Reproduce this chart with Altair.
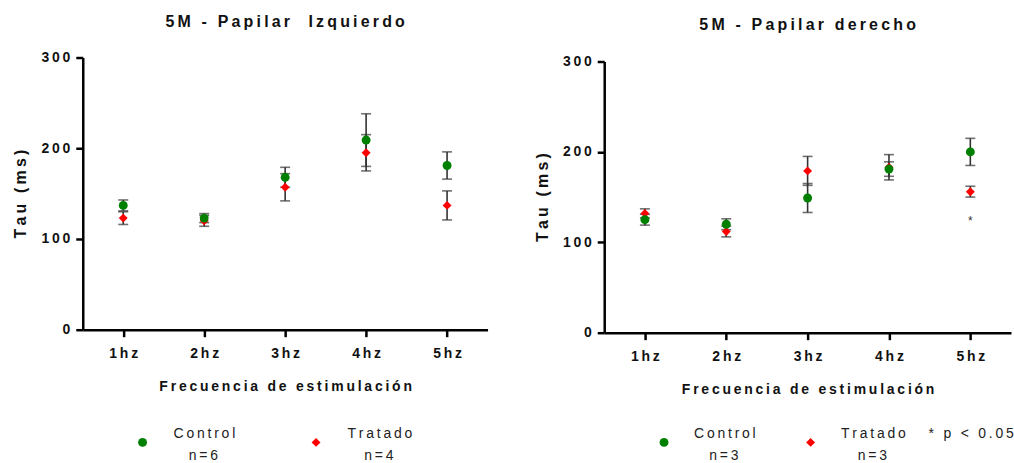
import altair as alt
import pandas as pd

# Estimulation frequencies (x categories) and the two groups
freqs = ["1hz", "2hz", "3hz", "4hz", "5hz"]
groups = ["Control", "Tratado"]
group_colors = ["#008000", "#ff0000"]
group_shapes = ["circle", "diamond"]
group_sizes = [80, 80]

# Papilar izquierdo: mean Tau (ms) and error
izq_control = [137, 123, 168, 209, 181]
izq_control_err = [6, 5, 11, 29, 15]
izq_tratado = [123, 120, 157, 195, 137]
izq_tratado_err = [7, 6, 15, 20, 16]
izq_n = [6, 4]

# Papilar derecho: mean Tau (ms) and error
der_control = [125, 120, 149, 181, 200]
der_control_err = [6, 6, 16, 8, 15]
der_tratado = [132, 112, 179, 183, 156]
der_tratado_err = [5, 6, 16, 14, 6]
der_n = [3, 3]

# significance marker: frequency and height of the asterisk
der_sig_freq = ["5hz"]
der_sig_pos = [127]

FONT = "Liberation Sans"
THIN = "\u2009"
SPACED_EXPR = "join(split(datum.label, ''), '\u2009')"


def sp(s):
    """Letter-spaced text, as in the original figure style."""
    return THIN.join(s)


def make_frame(ctrl, ctrl_err, trat, trat_err):
    rows = []
    # Tratado first so the Control circles sit on top
    for g, means, errs in (("Tratado", trat, trat_err), ("Control", ctrl, ctrl_err)):
        for f, m, e in zip(freqs, means, errs):
            rows.append({"freq": f, "group": g, "mean": m, "lo": m - e, "hi": m + e})
    return pd.DataFrame(rows)


def panel(df, title, n, height, yrange, sig_freq, sig_pos, legend_x, note=None, title_dy=0):
    x = alt.X(
        "freq:N",
        scale=alt.Scale(type="point", domain=freqs, padding=0.5),
        axis=alt.Axis(title=sp("Frecuencia de estimulación"), labelAngle=0,
                      labelExpr=SPACED_EXPR),
    )
    yscale = alt.Scale(domain=[0, 300], range=yrange) if yrange else alt.Scale(domain=[0, 300])

    def yenc(field):
        return alt.Y(f"{field}:Q", scale=yscale,
                     axis=alt.Axis(values=[0, 100, 200, 300], title=sp("Tau (ms)"),
                                   labelExpr=SPACED_EXPR))

    base = alt.Chart(df).encode(x=x)
    bars = base.mark_rule(color="#333333", strokeWidth=1.6).encode(y=yenc("lo"), y2="hi:Q")
    cap_lo = base.mark_tick(orient="horizontal", size=10, thickness=1.6,
                            color="#333333").encode(y=yenc("lo"))
    cap_hi = base.mark_tick(orient="horizontal", size=10, thickness=1.6,
                            color="#333333").encode(y=yenc("hi"))
    pts = base.mark_point(filled=True, opacity=1).encode(
        y=yenc("mean"),
        color=alt.Color("group:N", scale=alt.Scale(domain=groups, range=group_colors), legend=None),
        shape=alt.Shape("group:N", scale=alt.Scale(domain=groups, range=group_shapes), legend=None),
        size=alt.Size("group:N", scale=alt.Scale(domain=groups, range=group_sizes), legend=None),
    )
    layers = [bars, cap_lo, cap_hi, pts]

    if sig_freq:
        sig = pd.DataFrame({"freq": sig_freq, "pos": sig_pos})
        layers.append(
            alt.Chart(sig).mark_text(text="*", font=FONT, fontSize=12, color="#333333",
                                     baseline="middle", dy=3)
            .encode(x=x, y=alt.Y("pos:Q", scale=yscale))
        )

    # legend drawn beneath the plot
    one = pd.DataFrame({"k": [0]})
    for g, color, shape, size, nn, (sx, tx) in zip(groups, group_colors, group_shapes,
                                                    group_sizes, n, legend_x):
        layers.append(
            alt.Chart(one).mark_point(filled=True, opacity=1, color=color, shape=shape, size=size)
            .encode(x=alt.value(sx), y=alt.value(386))
        )
        layers.append(
            alt.Chart(one).mark_text(text=sp(g), font=FONT, fontSize=14, color="#222222",
                                     align="center", baseline="middle")
            .encode(x=alt.value(tx), y=alt.value(378))
        )
        layers.append(
            alt.Chart(one).mark_text(text=sp(f"n={nn}"), font=FONT, fontSize=14, color="#222222",
                                     align="center", baseline="middle")
            .encode(x=alt.value(tx - 1), y=alt.value(400))
        )
    if note:
        nx, ntext = note
        layers.append(
            alt.Chart(one).mark_text(text=ntext, font=FONT, fontSize=14, color="#222222",
                                     align="center", baseline="middle")
            .encode(x=alt.value(nx), y=alt.value(378))
        )

    return alt.layer(*layers).properties(
        width=406 if yrange is None else 408,
        height=height,
        title=alt.TitleParams(text=sp(title), font=FONT, fontSize=16, fontWeight="bold",
                              anchor="middle", frame="group", color="#111111",
                              offset=21, dy=title_dy),
    )


left = panel(
    make_frame(izq_control, izq_control_err, izq_tratado, izq_tratado_err),
    "5M - Papilar  Izquierdo", izq_n, 273, None, [], [],
    legend_x=[(60, 122), (234, 298)],
)
right = panel(
    make_frame(der_control, der_control_err, der_tratado, der_tratado_err),
    "5M - Papilar derecho", der_n, 276, [276, 4], der_sig_freq, der_sig_pos,
    legend_x=[(60, 121), (207, 270)],
    note=(368, sp("* p < 0.05")),
    title_dy=-1,
)

chart = (
    alt.hconcat(left, right, spacing=47)
    .properties(padding={"left": 13, "top": 13, "right": 0, "bottom": 0})
    .configure_view(stroke=None)
    .configure_axis(
        domainColor="#000000", domainWidth=2.5,
        tickColor="#000000", tickWidth=2.5, tickSize=7,
        labelFont=FONT, labelFontSize=14, labelFontWeight="bold", labelColor="#111111",
        titleFont=FONT, titleFontWeight="bold", titleColor="#111111",
        grid=False,
    )
    .configure_axisX(labelPadding=10, titleFontSize=14, titlePadding=19)
    .configure_axisY(labelPadding=6, titleFontSize=16, titlePadding=12)
)

chart.save("out.html", embed_options={"renderer": "svg", "actions": False})
